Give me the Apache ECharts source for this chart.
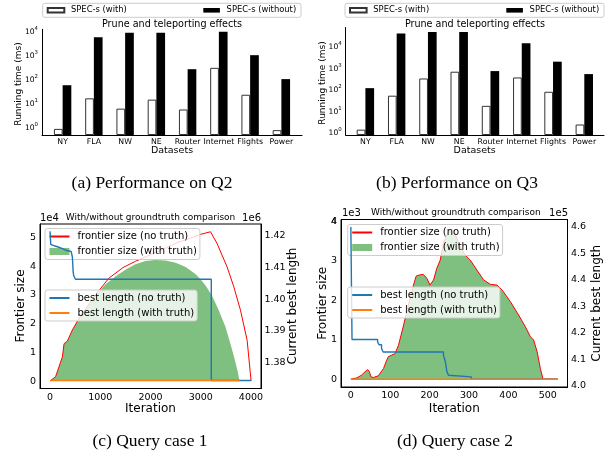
<!DOCTYPE html>
<html><head><meta charset="utf-8">
<script src="https://cdn.jsdelivr.net/npm/echarts@6/dist/echarts.min.js"></script>
<style>html,body{margin:0;padding:0;background:#fff}#c{width:611px;height:456px}</style>
</head><body><div id="c"></div>
<script>
// ---------- data ----------
const categories = ['NY','FLA','NW','NE','Router','Internet','Flights','Power'];
const q2With    = [0.9, 17, 6.3, 15, 5.8, 320, 24, 0.8];
const q2Without = [60, 6000, 9300, 9300, 280, 10200, 1080, 108];
const q3With    = [1.5, 56, 350, 720, 19, 390, 85, 2.6];
const q3Without = [125, 42000, 50000, 50000, 770, 15000, 2100, 560];

const c1FrontierIter = [0, 110, 246, 279, 345, 445, 610, 875, 1170, 1450, 1700, 2000, 2300, 2530, 2800, 3000, 3195, 3225, 3328, 3526, 3659, 3791, 3924, 4003];
const c1Frontier     = [0, 1500, 8400, 13000, 13900, 17800, 22800, 29300, 35800, 39500, 41700, 44000, 46300, 48200, 49800, 51100, 52000, 52100, 47800, 39700, 32800, 24700, 14200, 0];
const c1TruthIter = [0, 110, 246, 279, 345, 445, 610, 875, 1100, 1300, 1500, 1700, 1900, 2100, 2300, 2500, 2700, 2900, 3000, 3100, 3230, 3350, 3490, 3600, 3690, 3740, 3772];
const c1Truth     = [0, 1500, 8400, 13000, 13900, 17800, 22800, 29300, 33600, 36400, 38800, 40700, 41800, 42200, 42000, 41200, 39700, 37200, 35400, 33200, 29500, 25000, 19000, 12500, 6600, 3000, 0];
const c1BestIter = [0, 14, 30, 100, 160, 250, 330, 420, 445, 460, 472, 505, 3210, 4003];
const c1Best     = [1421200, 1417100, 1416600, 1416300, 1415800, 1415200, 1414900, 1414500, 1413100, 1408500, 1407300, 1406200, 1374500, 1374500];
const c1TruthBestIter = [0, 3770];
const c1TruthBest     = [1374500, 1374500];

const c2FrontierIter = [0, 15, 27, 36, 43, 47, 51, 57, 70, 83, 91, 95, 104, 112, 121, 134, 146, 159, 166, 176, 184, 193, 201, 210, 218, 227, 235, 244, 252, 261, 269, 278, 290, 303, 320, 337, 354, 371, 384, 405, 426, 443, 456, 464, 473, 481, 488, 525];
const c2Frontier     = [0, 30, 100, 185, 240, 185, 60, 40, 85, 270, 480, 565, 610, 640, 860, 1370, 1875, 2380, 2610, 2640, 2650, 2550, 2380, 2510, 2800, 3015, 3440, 3650, 3800, 3760, 3565, 3350, 3140, 3015, 2760, 2510, 2400, 2380, 2255, 1960, 1620, 1325, 1070, 990, 690, 270, 0, 0];
const c2TruthIter = c2FrontierIter;
const c2Truth     = c2Frontier;
const c2BestIter = [0, 3, 68, 72, 78, 82, 235, 240, 244, 248, 253, 306, 525];
const c2Best     = [459860, 417500, 416500, 415500, 414000, 412800, 411600, 409100, 405300, 404000, 403400, 402530, 402530];
const c2TruthBestIter = [0, 525];
const c2TruthBest     = [402530, 402530];

const c1XTicks = [0, 1000, 2000, 3000, 4000];
const c1LTicks = [0, 10000, 20000, 30000, 40000, 50000];
const c1RTicks = [1380000, 1390000, 1400000, 1410000, 1420000];
const c2XTicks = [0, 100, 200, 300, 400, 500];
const c2LTicks = [0, 1000, 2000, 3000, 4000];
const c2LTopTick = [4000];
const c2RTicks = [400000, 410000, 420000, 430000, 440000, 450000, 460000];

// ---------- helpers ----------
const FONT = 'DejaVu Sans';
const zip = (xs, ys) => xs.map((x, i) => [x, ys[i]]);
const GREEN = 'rgba(0,128,0,0.5)';
const BLUE = '#1f77b4', ORANGE = '#ff7f0e', RED = '#ff0000';

function T(x, y, text, size, o) {
  o = o || {};
  return {type: 'text', x: x, y: y, rotation: o.rot || 0, z: 30, silent: true,
    style: {text: text, fontSize: size, fontFamily: o.ff || FONT, fill: '#000',
      align: o.align || 'center', verticalAlign: o.va || 'middle'}};
}
function line() { return {show: true, onZero: false, lineStyle: {color: '#000', width: 1}}; }
function powLabel(v) {
  const l = Math.log10(v), e = Math.round(l);
  if (Math.abs(l - e) > 1e-6) return '';
  return '{b|10}{s|' + e + '}';
}
const powRich = {
  b: {fontSize: 7.6, fontFamily: FONT, color: '#000', lineHeight: 12, verticalAlign: 'middle'},
  s: {fontSize: 5.4, fontFamily: FONT, color: '#000', lineHeight: 7, verticalAlign: 'top'}
};
function catAxis(grid, min, max) {
  return {gridIndex: grid, type: 'value', min: min, max: max, interval: 1,
    axisLine: line(), axisTick: {show: false}, splitLine: {show: false},
    axisLabel: {customValues: categories.map((c, i) => i), hideOverlap: false,
      formatter: v => { const i = Math.round(v); return (Math.abs(v - i) < 1e-6 && categories[i]) ? categories[i] : ''; },
      fontSize: 7.8, fontFamily: FONT, color: '#000', margin: 2.5, lineHeight: 9}};
}
function logAxis(grid, min, max) {
  return {gridIndex: grid, type: 'log', logBase: 10, min: min, max: max, startValue: min,
    axisLine: line(), axisTick: {show: false}, splitLine: {show: false}, minorTick: {show: false},
    axisLabel: {formatter: powLabel, rich: powRich, margin: 4, color: '#000', fontFamily: FONT}};
}
// min is a multiple of step, so ticks counted from min land on every labelled value
function valAxis(grid, min, max, step, ticks, fmt, pos, margin) {
  return {gridIndex: grid, type: 'value', min: min, max: max, position: pos, interval: step,
    name: '', nameLocation: 'middle',
    axisLine: line(), axisTick: {show: false}, splitLine: {show: false},
    axisLabel: {hideOverlap: false, showMinLabel: false, showMaxLabel: false,
      formatter: v => (ticks.some(t => Math.abs(t - v) < 1e-6 * Math.max(1, Math.abs(t))) ? fmt(v) : ''),
      fontSize: 9.5, fontFamily: FONT, color: '#000', margin: margin}};
}
// an extra label-only axis sharing the same scale (for the top tick of panel d)
function labelAxis(grid, min, max, ticks, fmt, pos, margin) {
  return {gridIndex: grid, type: 'value', min: min, max: max, position: pos,
    axisLine: {show: false}, axisTick: {show: false}, splitLine: {show: false},
    axisLabel: {customValues: ticks, hideOverlap: false, showMinLabel: true, showMaxLabel: true,
      formatter: v => fmt(v), fontSize: 9.5, fontFamily: FONT, color: '#000', margin: margin}};
}
function barLegend(left, name) {
  return {left: left, top: 5.3, orient: 'horizontal', padding: 0, selectedMode: false,
    itemWidth: 16.6, itemHeight: 4.6, z: 5,
    data: [{name: name, icon: 'rect'}],
    textStyle: {fontFamily: FONT, fontSize: 8.4, color: '#000', lineHeight: 10, padding: [0, 0, 0, 1.7]}};
}
function lineLegend(left, top, data, z) {
  return {left: left, top: top, orient: 'vertical', selectedMode: false,
    itemWidth: 20, itemHeight: 7, itemGap: 3, padding: [2, 3, 2, 3.5], z: z,
    backgroundColor: 'rgba(255,255,255,0.8)', borderColor: '#cccccc', borderWidth: 1, borderRadius: 2.5,
    data: data,
    textStyle: {fontFamily: FONT, fontSize: 10, color: '#000', lineHeight: 12, padding: [0, 0, 0, 3]}};
}
const NOSYM = {opacity: 0, color: 'transparent', borderWidth: 0};
const frontierLegend = [{name: 'frontier size (no truth)', itemStyle: NOSYM},
  {name: 'frontier size (with truth)', icon: 'rect', itemStyle: {color: GREEN, borderWidth: 0}}];
const bestLegend = [{name: 'best length (no truth)', itemStyle: NOSYM}, {name: 'best length (with truth)', itemStyle: NOSYM}];

function bars(xi, name, vals, style) {
  return {type: 'bar', name: name, xAxisIndex: xi, yAxisIndex: xi, barWidth: 8.7, barGap: '0%',
    data: vals.map((v, i) => [i, v]), itemStyle: style, z: 3};
}
function ln(xi, yi, name, data, color, width, z, extra) {
  return Object.assign({type: 'line', name: name, xAxisIndex: xi, yAxisIndex: yi, data: data,
    symbol: 'none', showSymbol: false, z: z, color: color,
    lineStyle: {color: color, width: width}}, extra || {});
}
function area(xi, yi, name, data) {
  return {type: 'line', name: name, xAxisIndex: xi, yAxisIndex: yi, data: data,
    symbol: 'none', showSymbol: false, z: 2, color: GREEN,
    lineStyle: {width: 0, opacity: 0}, areaStyle: {color: GREEN, opacity: 1}};
}

const WHITE = {color: '#ffffff', borderColor: '#333333', borderWidth: 1};
const BLACK = {color: '#000000'};

const option = {
  animation: false,
  backgroundColor: '#ffffff',
  grid: [
    {left: 42, top: 29.3, width: 260, height: 105.7, outerBoundsMode: 'none'},
    {left: 345.7, top: 27.5, width: 258.3, height: 107.5, outerBoundsMode: 'none'},
    {left: 40, top: 224, width: 221, height: 164.5, show: true, borderColor: '#000', borderWidth: 1, outerBoundsMode: 'none'},
    {left: 341, top: 219.5, width: 226.5, height: 167.5, show: true, borderColor: '#000', borderWidth: 1, outerBoundsMode: 'none'}
  ],
  xAxis: [
    catAxis(0, -0.66, 7.66),
    catAxis(1, -0.63, 7.63),
    valAxis(2, -200, 4200, 200, c1XTicks, v => String(Math.round(v)), 'bottom', 4),
    valAxis(3, -25, 550, 25, c2XTicks, v => String(Math.round(v)), 'bottom', 4)
  ],
  yAxis: [
    logAxis(0, 0.5, 13000),
    logAxis(1, 0.85, 80000),
    valAxis(2, -2600, 54700, 200, c1LTicks, v => String(Math.round(v / 1e4)), 'left', 4),
    valAxis(2, 1372000, 1423500, 1000, c1RTicks, v => (v / 1e6).toFixed(2), 'right', 3.5),
    valAxis(3, -200, 4040, 200, c2LTicks, v => String(Math.round(v / 1e3)), 'left', 4),
    valAxis(3, 399600, 462700, 200, c2RTicks, v => (v / 1e5).toFixed(1), 'right', 3.5),
    labelAxis(3, -200, 4040, c2LTopTick, v => String(Math.round(v / 1e3)), 'left', 4)
  ],
  legend: [
    barLegend(46.7, 'SPEC-s (with)'),
    barLegend(203.3, 'SPEC-s (without)'),
    barLegend(349, 'SPEC-s (with)'),
    barLegend(506.3, 'SPEC-s (without)'),
    lineLegend(45, 228.5, frontierLegend, 4),
    lineLegend(45, 290, bestLegend, 8),
    lineLegend(347.7, 224.5, frontierLegend, 4),
    lineLegend(347.7, 287, bestLegend, 8)
  ],
  series: [
    bars(0, 'SPEC-s (with)', q2With, WHITE),
    bars(0, 'SPEC-s (without)', q2Without, BLACK),
    bars(1, 'SPEC-s (with)', q3With, WHITE),
    bars(1, 'SPEC-s (without)', q3Without, BLACK),
    area(2, 2, 'frontier size (with truth)', zip(c1TruthIter, c1Truth)),
    ln(2, 2, 'frontier size (no truth)', zip(c1FrontierIter, c1Frontier), RED, 1, 3),
    ln(2, 3, 'best length (no truth)', zip(c1BestIter, c1Best), BLUE, 1.4, 5, {step: 'end'}),
    ln(2, 3, 'best length (with truth)', zip(c1TruthBestIter, c1TruthBest), ORANGE, 1.5, 6),
    area(3, 4, 'frontier size (with truth)', zip(c2TruthIter, c2Truth)),
    ln(3, 4, 'frontier size (no truth)', zip(c2FrontierIter, c2Frontier), RED, 1, 3),
    ln(3, 5, 'best length (no truth)', zip(c2BestIter, c2Best), BLUE, 1.4, 5, {step: 'end'}),
    ln(3, 5, 'best length (with truth)', zip(c2TruthBestIter, c2TruthBest), ORANGE, 1.5, 6)
  ],
  graphic: [
    {type: 'rect', z: 3, silent: true, shape: {x: 42.7, y: 3.3, width: 258.3, height: 14, r: 2},
      style: {fill: 'rgba(255,255,255,0.8)', stroke: '#cccccc', lineWidth: 1}},
    {type: 'rect', z: 3, silent: true, shape: {x: 345, y: 3.3, width: 259, height: 14, r: 2},
      style: {fill: 'rgba(255,255,255,0.8)', stroke: '#cccccc', lineWidth: 1}},
    T(172, 24, 'Prune and teleporting effects', 9.6),
    T(474.9, 24, 'Prune and teleporting effects', 9.6),
    T(19, 84, 'Running time (ms)', 9, {rot: Math.PI / 2}),
    T(322.3, 83, 'Running time (ms)', 9, {rot: Math.PI / 2}),
    T(172, 151, 'Datasets', 9.5),
    T(474.7, 150.7, 'Datasets', 9.5),
    T(150.5, 218, 'With/without groundtruth comparison', 9),
    T(40, 218, '1e4', 10, {align: 'left'}),
    T(261, 218, '1e6', 10, {align: 'right'}),
    T(20.7, 306, 'Frontier size', 12, {rot: Math.PI / 2}),
    T(293.3, 306, 'Current best length', 12, {rot: Math.PI / 2}),
    T(150.5, 409, 'Iteration', 12),
    T(455.8, 212.5, 'With/without groundtruth comparison', 9),
    T(342, 213.3, '1e3', 10, {align: 'left'}),
    T(568, 213.3, '1e5', 10, {align: 'right'}),
    T(323.3, 303.3, 'Frontier size', 12, {rot: Math.PI / 2}),
    T(596.7, 303.3, 'Current best length', 12, {rot: Math.PI / 2}),
    T(454.3, 409, 'Iteration', 12),
    T(152, 183, '(a) Performance on Q2', 17.5, {ff: 'Liberation Serif'}),
    T(457, 183, '(b) Performance on Q3', 17.5, {ff: 'Liberation Serif'}),
    T(150, 441, '(c) Query case 1', 17.5, {ff: 'Liberation Serif'}),
    T(455, 441, '(d) Query case 2', 17.5, {ff: 'Liberation Serif'})
  ]
};
const chart = echarts.init(document.getElementById('c'), null, {renderer: 'canvas', width: 611, height: 456});
chart.setOption(option);
</script>
</body></html>
